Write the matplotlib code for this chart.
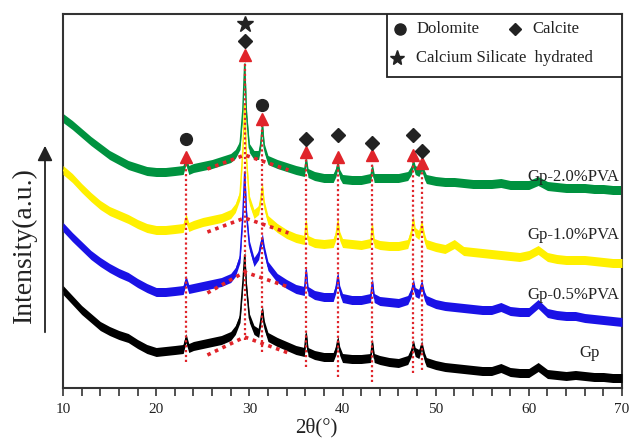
import matplotlib
matplotlib.use("Agg")
import matplotlib.pyplot as plt
import numpy as np
from matplotlib.patches import Rectangle, FancyArrowPatch

# ---------------- data ----------------
two_theta = [10, 11, 12, 13, 14, 15, 16, 17, 18, 19, 20, 21, 22,
             22.9, 23.2, 23.5, 24, 25, 26, 27, 28,
             28.5, 29, 29.3, 29.5, 29.7, 30,
             30.5, 31, 31.2, 31.4, 31.6,
             32, 33, 34, 35, 35.9, 36.1, 36.3, 37, 38, 39,
             39.3, 39.5, 39.7, 40, 41, 42, 43, 43.2, 43.4,
             44, 45, 46, 47, 47.4, 47.6, 47.8, 48.2, 48.5, 48.8,
             49, 50, 51, 52, 53, 54, 55, 56, 57, 58, 59, 60,
             61, 62, 63, 64, 65, 66, 67, 68, 69, 70]

gp_20 = [270, 263, 255, 247, 240, 233, 228, 223, 220, 217, 216, 216, 217,
         218, 228, 218, 220, 222, 224, 227, 230,
         234, 243, 278, 324, 273, 240,
         233, 233, 243, 263, 240,
         228, 224, 221, 218, 216, 228, 215, 212, 210, 210,
         216, 224, 214, 209, 208, 208, 210, 220, 210,
         210, 210, 210, 212, 218, 225, 218, 216, 222, 213,
         209, 207, 206, 206, 205, 204, 204, 204, 205, 203, 203, 203,
         207, 202, 201, 200, 200, 200, 199, 199, 198, 198]

gp_10 = [218, 210, 200, 191, 183, 177, 173, 169, 164, 160, 158, 158, 159,
         160, 170, 161, 163, 166, 168, 170, 174,
         180, 193, 238, 283, 228, 188,
         174, 178, 188, 201, 183,
         168, 160, 154, 150, 148, 166, 148, 145, 144, 145,
         153, 166, 152, 145, 144, 143, 145, 162, 145,
         143, 142, 142, 144, 156, 168, 156, 153, 164, 150,
         144, 141, 139, 144, 137, 136, 135, 134, 133, 132, 131, 133,
         138, 131, 129, 128, 128, 128, 127, 126, 125, 125]

gp_05 = [161, 151, 142, 133, 126, 120, 115, 111, 105, 100, 96, 96, 97,
         98, 108, 99, 100, 102, 104, 106, 110,
         116, 130, 173, 216, 173, 143,
         126, 133, 143, 150, 138,
         122, 110, 104, 99, 97, 118, 97, 93, 91, 91,
         100, 112, 98, 90, 88, 88, 90, 106, 90,
         87, 86, 85, 88, 96, 105, 96, 94, 104, 92,
         88, 84, 82, 81, 80, 79, 78, 78, 81, 77, 76, 76,
         84, 75, 73, 72, 72, 70, 69, 68, 67, 66]

gp_00 = [98, 88, 78, 70, 62, 57, 53, 50, 44, 39, 36, 37, 38,
         39, 50, 40, 42, 44, 46, 48, 52,
         58, 70, 105, 133, 100, 70,
         58, 55, 66, 78, 63,
         51, 46, 42, 38, 36, 54, 36, 33, 31, 31,
         38, 48, 37, 30, 29, 29, 30, 45, 30,
         28, 26, 25, 28, 36, 44, 36, 34, 43, 31,
         26, 23, 21, 20, 19, 18, 17, 17, 20, 16, 15, 15,
         21, 14, 13, 12, 13, 12, 11, 11, 10, 10]

series_labels = ["Gp-2.0%PVA", "Gp-1.0%PVA", "Gp-0.5%PVA", "Gp"]

# peak markers
peak_pos = [23.2, 29.5, 31.4, 36.1, 39.5, 43.2, 47.6, 48.5]
peak_top = [231, 333, 269, 236, 231, 233, 233, 225]
peak_bottom = [26, 48, 36, 21, 11, 6, 15, 18]

dolomite_x = [23.2, 31.4]
dolomite_y = [249, 283]
calcite_x = [29.5, 36.1, 39.5, 43.2, 47.6, 48.5]
calcite_y = [347, 249, 253, 245, 253, 237]
csh_x = [29.5]
csh_y = [364]

# amorphous hump guides
hump_x = [25.5, 29.5, 34.2]
hump_20 = [219, 233, 218]
hump_10 = [156, 170, 155]
hump_05 = [95, 116, 101]
hump_00 = [33, 51, 35]

# ---------------- figure ----------------
plt.rcParams['font.family'] = ['Liberation Serif', 'DejaVu Serif']
fig = plt.figure(figsize=(6.41, 4.38), dpi=100)
ax = fig.add_axes([63/641, 50/438, 559/641, 374/438])

x = np.array(two_theta)
curves = [
    (gp_20, '#00923f', hump_20),
    (gp_10, '#fff000', hump_10),
    (gp_05, '#1a12e6', hump_05),
    (gp_00, '#000000', hump_00),
]
band = 4.5
for i, (vals, col, hump) in enumerate(curves):
    y = np.array(vals, dtype=float)
    ax.fill_between(x, y - band, y + band, color=col, lw=0, zorder=2 + i)
    ax.plot(x, y, color=col, lw=1.0, zorder=2 + i)

red = '#e0242a'
for px, top, bot in zip(peak_pos, peak_top, peak_bottom):
    ax.plot([px, px], [bot, top], color=red, lw=1.6,
            linestyle=(0, (1, 1.2)), zorder=8)
for vals, col, hump in curves:
    ax.plot(hump_x, hump, color=red, lw=2.6, linestyle=(0, (1, 1.3)),
            zorder=8)

ax.plot(peak_pos, peak_top, linestyle='none', marker='^', ms=8,
        color=red, zorder=9)
ax.plot(dolomite_x, dolomite_y, linestyle='none', marker='o', ms=8.5,
        color='#222222', zorder=9)
ax.plot(calcite_x, calcite_y, linestyle='none', marker='D', ms=7,
        color='#222222', zorder=9)
ax.plot(csh_x, csh_y, linestyle='none', marker='*', ms=12,
        color='#222222', zorder=9)

# series labels
label_pos = [(619, 177, 'right'), (619, 235, 'right'), (619, 295, 'right'),
             (590, 353, 'center')]
for lab, (px, py, ha) in zip(series_labels, label_pos):
    ax.text((px - 63) / 559, (388 - py) / 374, lab, transform=ax.transAxes,
            ha=ha, va='center', fontsize=12, color='#222222', zorder=10)

# legend box
ax.add_patch(Rectangle((0.580, 0.832), 0.420, 0.168, transform=ax.transAxes,
                       fill=True, facecolor='white', edgecolor='#222222',
                       lw=1.3, zorder=11))
ax.plot([0.603], [0.960], marker='o', ms=8, color='#222222',
        transform=ax.transAxes, zorder=12, clip_on=False)
ax.text(0.632, 0.960, 'Dolomite', transform=ax.transAxes, va='center',
        ha='left', fontsize=12, color='#222222', zorder=12)
ax.plot([0.809], [0.960], marker='D', ms=6.5, color='#222222',
        transform=ax.transAxes, zorder=12, clip_on=False)
ax.text(0.839, 0.960, 'Calcite', transform=ax.transAxes, va='center',
        ha='left', fontsize=12, color='#222222', zorder=12)
ax.plot([0.598], [0.882], marker='*', ms=11, color='#222222',
        transform=ax.transAxes, zorder=12, clip_on=False)
ax.text(0.632, 0.882, 'Calcium Silicate  hydrated', transform=ax.transAxes,
        va='center', ha='left', fontsize=12, color='#222222', zorder=12)

# axes styling
ax.set_xlim(10, 70)
ax.set_ylim(0, 374)
ax.set_yticks([])
ax.set_xticks([10, 20, 30, 40, 50, 60, 70])
ax.set_xticks(np.arange(10, 71, 2), minor=True)
ax.tick_params(axis='x', which='both', direction='out', length=6,
               width=1.2, color='#333333', pad=5, labelsize=11,
               labelcolor='#222222', top=False)
for sp in ax.spines.values():
    sp.set_linewidth(1.5)
    sp.set_color('#333333')

# x label
fig.text(316/641, 1 - 428/438, '2θ(°)', ha='center', va='center',
         fontsize=15, color='#222222')

# y label with arrow
fig.text(24/641, 1 - 245/438, 'Intensity(a.u.)', rotation=90, ha='center',
         va='center', fontsize=20, color='#222222')
fig.add_artist(FancyArrowPatch(
    (45/641, 1 - 335/438), (45/641, 1 - 143/438), transform=fig.transFigure,
    arrowstyle='-|>,head_length=6,head_width=3', color='#222222', lw=1.3,
    mutation_scale=1.5))

fig.savefig('out.png', dpi=100)
